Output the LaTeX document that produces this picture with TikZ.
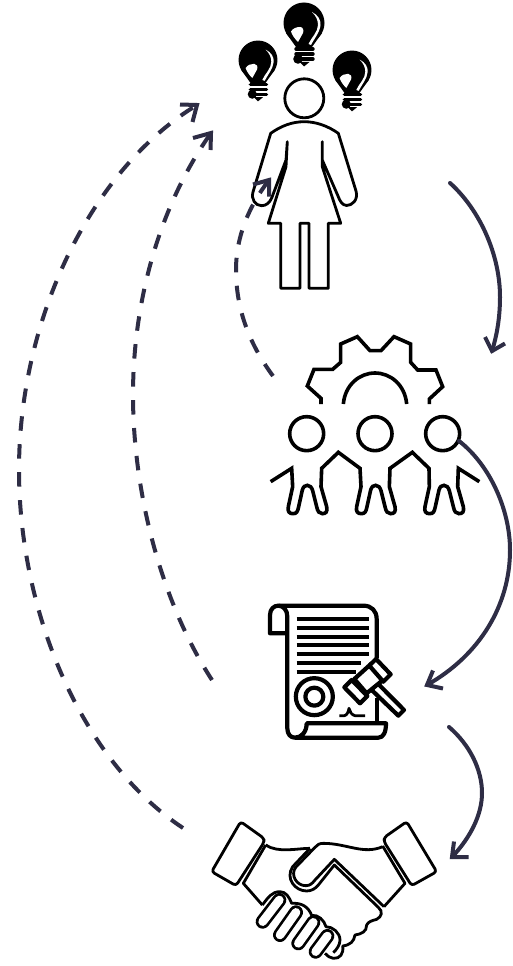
\documentclass[tikz,border=0pt]{standalone}
\definecolor{arrowink}{HTML}{2E2D45}
\newcommand{\legsat}[1]{-- ({#1+128},470) -- ({#1+115},530) .. controls ({#1+112},545) and ({#1+118},551) .. ({#1+129},551) .. controls ({#1+140},551) and ({#1+143},545) .. ({#1+146},530) -- ({#1+157},480) .. controls ({#1+160},470) and ({#1+165},466) .. ({#1+172},466) .. controls ({#1+180},466) and ({#1+185},472) .. ({#1+188},482) -- ({#1+200},530) .. controls ({#1+203},545) and ({#1+208},551) .. ({#1+217},551) .. controls ({#1+228},551) and ({#1+233},545) .. ({#1+230},530) -- ({#1+213},470) -- ({#1+215},415)}
\tikzset{
  icon/.style={draw=black,line width=2.8pt,line join=round,fill=none},
  heavy/.style={draw=black,line width=3.6pt,line join=round,fill=none},
  paper/.style={draw=black,line width=4.2pt,line join=round,fill=none},
  flow/.style={draw=arrowink,line width=4pt,line cap=round,line join=miter},
  back/.style={draw=arrowink,line width=4pt,dash pattern=on 14.5pt off 13.5pt},
  tiphead/.style={draw=arrowink,line width=4pt,line join=miter},
  bulb/.pic={
    \fill[black] (0,0) circle (20.5pt);
    \fill[black] (-18,10) -- (-8,24) -- (8,24) -- (18,10) -- cycle;
    \fill[white] (-13,8.5) .. controls (-11,5) and (-7,4) .. (-4,4) .. controls (-1,4) and (0,7) .. (-1,10) .. controls (-3,13) and (-4,16) .. (-6,19) .. controls (-9,16) and (-12,12) .. (-13,8.5) -- cycle;
    \fill[white] (8,-11) .. controls (14,-8) and (17,-3) .. (16.5,2) .. controls (16,9) and (10,16) .. (7,22) -- (4.5,21) .. controls (7,15) and (14,9) .. (14,2) .. controls (14,-3) and (12,-7) .. (8,-11) -- cycle;
    \draw[black,line width=3.4pt,line cap=round] (-8,26) -- (9,26) (-8,31) -- (9,31) (-6,36) -- (9,36);
    \fill[black] (-6,36) circle (4.8pt);
    \fill[black] (-4.5,39) -- (5.5,39) -- (0,43.5) -- cycle;
  }
}
\begin{document}
\begin{tikzpicture}[x=1pt,y=-1pt]
\useasboundingbox (0,0) rectangle (512,966);
\fill[white] (0,0) rectangle (512,966);

% bulbs
\pic at (304,23) {bulb};
\pic[scale=.95] at (258,60) {bulb};
\pic[scale=.95] at (352,70) {bulb};

% woman
\draw[icon] (304.3,98.3) circle (19.5pt);
\draw[icon] (270.7,133.3) .. controls (281,126) and (292,121.7) .. (304.3,121.7) .. controls (316,121.7) and (328,126) .. (338.3,133.3)
  -- (356,191) .. controls (358.5,200) and (352,205.5) .. (346.7,205.5) .. controls (342,205.5) and (339.5,200) .. (338.3,196.7)
  -- (322.3,160) -- (322.3,141.7) -- (322.3,166.7) -- (340.7,223.3) -- (328.3,223.3) -- (328.3,288.3) -- (309,288.3) -- (309,223.3) -- (300,223.3) -- (300,288.3) -- (280.7,288.3) -- (280.7,223.3) -- (268.3,223.3)
  -- (286,166.7) -- (287.3,141.7) -- (286,160) -- (271.7,198) .. controls (269.5,203) and (266,205.7) .. (261.7,205.7) .. controls (255,205.7) and (251,199) .. (253,192) -- cycle;

% team (zoomed coordinates)
\begin{scope}[shift={(250,330)},x=.33333pt,y=-.33333pt]
  \draw[heavy,line cap=butt,line join=miter] (213,222) -- (213,205) -- (172,168) -- (192,118) -- (248,118) -- (272,97) -- (272,42) -- (322,20) -- (360,62) -- (393,62) -- (432,20) -- (482,42) -- (482,97) -- (503,120) -- (558,120) -- (578,170) -- (538,207) -- (538,222);
  \draw[heavy] (280,222) .. controls (285,165) and (328,129) .. (375,129) .. controls (422,129) and (465,165) .. (470,222);
  \draw[heavy] (170,311) circle (17pt) (375,311) circle (17pt) (578,311) circle (17pt);
  \draw[heavy,line join=miter] (62,455) -- (125,415) \legsat{0} -- (265,367) -- (330,415) \legsat{205} -- (487,367) -- (537,415) \legsat{410} -- (688,455);
\end{scope}

% document
\begin{scope}[shift={(250,595)},x=.33333pt,y=-.33333pt]
  \draw[paper] (112,115) -- (60,115) -- (60,60) .. controls (60,42) and (72,32) .. (85,32) -- (340,32) .. controls (365,32) and (380,48) .. (380,72) -- (380,190);
  \draw[paper] (85,32) .. controls (100,32) and (112,45) .. (112,65) -- (112,400) .. controls (112,418) and (122,428) .. (135,428) -- (385,428) .. controls (400,428) and (408,412) .. (408,385) -- (170,385) .. controls (170,410) and (155,428) .. (135,428);
  \draw[paper] (380,310) -- (380,385);
  \draw[black,line width=4pt] (140,73) -- (358,73) (140,99) -- (358,99) (140,125) -- (358,125) (140,151) -- (358,151) (140,177) -- (358,177) (140,204) -- (332,204) (140,230) -- (318,230);
  \draw[paper] (193,305) circle (18.5pt) (193,305) circle (9pt);
  \draw[icon] (268,362) -- (283,362) .. controls (292,360) and (295,350) .. (297,340) .. controls (299,350) and (305,360) .. (315,362) -- (345,362);
  \draw[paper,fill=white] (365,285) -- (380,262) -- (462,345) -- (445,362) -- cycle;
  \draw[paper,fill=white] (313,252) -- (365,205) -- (405,250) -- (350,295) -- cycle;
  \draw[paper,fill=white] (283,277) -- (305,255) -- (352,303) -- (330,325) -- cycle;
  \draw[paper,fill=white] (358,212) -- (378,192) -- (422,238) -- (400,260) -- cycle;
\end{scope}

% handshake
\begin{scope}[shift={(200,810)},x=.33333pt,y=-.33333pt]
  \draw[icon,rounded corners=3pt] (122,35) -- (192,85) -- (192,97) -- (108,227) -- (35,185) -- cycle;
  \draw[icon,rounded corners=3pt] (620,35) -- (710,185) -- (635,227) -- (552,95) -- (553,82) -- cycle;
  \draw[icon] (197,105) .. controls (235,130) and (290,115) .. (330,115);
  \draw[icon] (197,105) -- (130,220) -- (187,285);
  \draw[icon] (548,108) -- (615,220) -- (552,290);
  \draw[icon] (548,110) .. controls (490,135) and (440,100) .. (370,100) .. controls (358,100) and (352,104) .. (345,112) -- (287,172) .. controls (270,195) and (290,228) .. (318,227) .. controls (330,227) and (337,220) .. (345,210) -- (403,148) -- (552,290);
  \draw[icon] (330,115) -- (278,170) .. controls (255,205) and (285,243) .. (320,243) .. controls (335,243) and (347,235) .. (355,225) -- (403,165) -- (535,292) .. controls (550,305) and (545,320) .. (530,328) .. controls (515,332) and (505,335) .. (500,345) .. controls (500,365) and (485,372) .. (465,375) .. controls (462,395) and (450,405) .. (428,408) .. controls (432,430) and (420,447) .. (400,445) .. controls (390,444) and (382,438) .. (375,430);
  \draw[icon] (187,285) .. controls (205,262) and (215,245) .. (240,245) .. controls (258,245) and (268,262) .. (275,280) .. controls (305,278) and (325,290) .. (335,316) .. controls (355,314) and (372,330) .. (378,350) .. controls (398,350) and (420,368) .. (420,390) .. controls (420,405) and (410,418) .. (400,428);
  \foreach \xa/\ya/\xb/\yb in {188/335/238/270, 240/375/288/307, 295/400/340/337, 347/425/382/378}{
    \draw[black,line width=14pt,line cap=round] (\xa,\ya) -- (\xb,\yb);
    \draw[white,line width=8.6pt,line cap=round] (\xa,\ya) -- (\xb,\yb);
  }
\end{scope}

% connector end points
\coordinate (womanOut) at (450,183);
\coordinate (teamIn) at (492,351);
\coordinate (teamOut) at (459,441);
\coordinate (docIn) at (427,685);
\coordinate (docOut) at (449,727);
\coordinate (handsIn) at (452,857);
\coordinate (teamBack) at (273,376);
\coordinate (womanBackA) at (269,180);
\coordinate (docBack) at (212,680);
\coordinate (womanBackB) at (211,133);
\coordinate (handsBack) at (183,828);
\coordinate (womanBackC) at (197,105);

% forward connectors
\draw[flow] (womanOut) .. controls (480,210) and (500,255) .. (500,297) .. controls (500,317) and (497,335) .. (teamIn);
\draw[tiphead] (485,337) -- (teamIn) -- (505,343.5);
\draw[flow] (teamOut) .. controls (490,465) and (510,510) .. (510,550) .. controls (510,605) and (480,655) .. (docIn);
\draw[tiphead] (433,670.5) -- (docIn) -- (443,688.5);
\draw[flow] (docOut) .. controls (470,745) and (482,770) .. (482,793) .. controls (482,815) and (470,838) .. (handsIn);
\draw[tiphead] (454,841.5) -- (handsIn) -- (468.5,857);

% return connectors
\draw[back] (teamBack) .. controls (250,345) and (236,310) .. (236,270) .. controls (236,235) and (250,205) .. (womanBackA);
\draw[tiphead] (253,184.5) -- (womanBackA) -- (269,196.5);
\draw[back] (docBack) .. controls (160,600) and (133,490) .. (133,395) .. controls (133,300) and (160,205) .. (womanBackB);
\draw[tiphead] (193,138) -- (womanBackB) -- (210.5,150);
\draw[back] (handsBack) .. controls (80,760) and (19,610) .. (19,470) .. controls (19,320) and (90,170) .. (womanBackC);
\draw[tiphead] (180,104.5) -- (womanBackC) -- (192.5,122);
\end{tikzpicture}
\end{document}
